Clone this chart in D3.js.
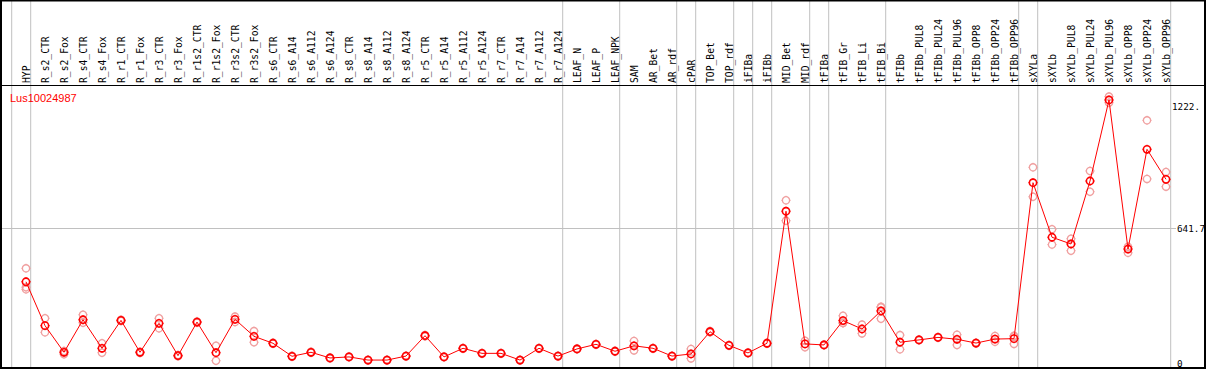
<!DOCTYPE html>
<html>
<head>
<meta charset="utf-8">
<script src="https://cdn.jsdelivr.net/npm/d3@7"></script>
<style>
  html, body { margin: 0; padding: 0; background: #fff; }
  svg { display: block; }
</style>
</head>
<body>
<div id="chart"></div>
<script>
// sample names along the top header
const samples = ["HYP","R_s2_CTR","R_s2_Fox","R_s4_CTR","R_s4_Fox","R_r1_CTR","R_r1_Fox","R_r3_CTR","R_r3_Fox",
  "R_r1s2_CTR","R_r1s2_Fox","R_r3s2_CTR","R_r3s2_Fox","R_s6_CTR","R_s6_A14","R_s6_A112","R_s6_A124",
  "R_s8_CTR","R_s8_A14","R_s8_A112","R_s8_A124","R_r5_CTR","R_r5_A14","R_r5_A112","R_r5_A124",
  "R_r7_CTR","R_r7_A14","R_r7_A112","R_r7_A124","LEAF_N","LEAF_P","LEAF_NPK","SAM","AR_Bet","AR_rdf",
  "cPAR","TOP_Bet","TOP_rdf","iFIBa","iFIBb","MID_Bet","MID_rdf","tFIBa","tFIB_Gr","tFIB_Li","tFIB_Bi",
  "tFIBb","tFIBb_PUL8","tFIBb_PUL24","tFIBb_PUL96","tFIBb_OPP8","tFIBb_OPP24","tFIBb_OPP96",
  "sXYLa","sXYLb","sXYLb_PUL8","sXYLb_PUL24","sXYLb_PUL96","sXYLb_OPP8","sXYLb_OPP24","sXYLb_OPP96"];

// mean expression per sample
const means = [387,178,51,206,70,203,51,189,35,195,49,208,127,94,32,51,24,29,14,14,33,130,29,70,46,46,14,70,33,
  67,89,56,82,70,33,43,149,84,48,94,723,91,86,202,162,248,99,110,122,113,95,114,116,
  859,599,567,867,1253,543,1018,875];

// replicate values per sample (same order as samples)
const replicates = [[451,361,351],[213,146],[57,42],[230,192],[94,49],[206,200],[54,48],[213,165],[38,32],
  [198,192],[82,11],[221,195],[152,99],[96,92],[34,30],[53,49],[26,22],[31,27],[16,12],[16,12],[35,31],
  [133,127],[31,27],[72,68],[48,44],[48,44],[16,12],[72,68],[35,31],[69,65],[91,87],[58,54],[105,60],
  [72,68],[35,31],[67,22],[152,146],[86,82],[50,46],[96,92],[775,678],[106,75],[88,84],[225,190,191],
  [141,183],[268,211,265],[133,65],[112,108],[124,120],[135,86],[97,93],[129,101],[130,91,127],
  [932,792],[637,564],[592,535],[915,816],[1269,1240],[554,525],[1156,877],[910,840]];

// indices after which a grey separator is drawn (-1 = before the first sample)
const groupEnds = [-1,0,28,31,34,35,37,38,39,41,42,45,52,53,60];

// right axis labels
const yTicks = [1222, 641.7, 0];
const yTickLabels = ["1222.", "641.7", "0"];
const geneId = "Lus10024987";

const W = 1209, H = 370;
const headerY = 85, bottomY = 368, rightEdge = 1205;

const svg = d3.select("#chart").append("svg")
  .attr("width", W)
  .attr("height", H);

const x = d3.scalePoint()
  .domain(samples)
  .range([26, 1166]);
const step = x.step();

const y = d3.scaleLinear()
  .domain([0, 641.7])
  .range([363, 228.3]);

// vertical separators between sample groups
svg.append("g").selectAll("line")
  .data(groupEnds)
  .join("line")
  .attr("x1", i => (i < 0 ? x(samples[0]) - step : x(samples[i])) + 4.7)
  .attr("x2", i => (i < 0 ? x(samples[0]) - step : x(samples[i])) + 4.7)
  .attr("y1", 0)
  .attr("y2", bottomY)
  .attr("stroke", "#c0c0c0")
  .attr("stroke-width", 1);

// mid gridline
svg.append("line")
  .attr("x1", 0).attr("x2", 1176)
  .attr("y1", Math.round(y(641.7)) + 0.5).attr("y2", Math.round(y(641.7)) + 0.5)
  .attr("stroke", "#c0c0c0");

// header line
svg.append("line")
  .attr("x1", 0).attr("x2", rightEdge)
  .attr("y1", headerY + 0.5).attr("y2", headerY + 0.5)
  .attr("stroke", "#000");

// sample labels, rotated
svg.append("g").selectAll("text")
  .data(samples)
  .join("text")
  .attr("transform", d => `translate(${x(d) + 3.5},${headerY - 2}) rotate(-90)`)
  .style("font-family", "DejaVu Sans Mono, monospace")
  .style("font-size", "9.7px")
  .text(d => d);

// y axis labels
svg.append("g").selectAll("text")
  .data(yTicks)
  .join("text")
  .attr("x", (d, i) => i === 0 ? 1172 : 1177)
  .attr("y", d => y(d) + 3.5)
  .style("font-family", "DejaVu Sans Mono, monospace")
  .style("font-size", "9.3px")
  .text((d, i) => yTickLabels[i]);

// gene id
svg.append("text")
  .attr("x", 10)
  .attr("y", 102)
  .attr("fill", "#ff0000")
  .style("font-family", "Liberation Sans, Arial, sans-serif")
  .style("font-size", "11px")
  .text(geneId);

// marker: open circle with small ticks
function marker(g, color, sw) {
  g.append("circle").attr("r", 3.6).attr("fill", "none").attr("stroke", color).attr("stroke-width", sw);
  g.append("path").attr("d", "M0,-4.6V-3.6M0,3.6V4.6M-4.6,0H-3.6M3.6,0H4.6")
    .attr("stroke", color).attr("stroke-width", 1);
}

// replicate points
const repData = [];
samples.forEach((s, i) => replicates[i].forEach(v => repData.push({ s, v })));
svg.append("g").selectAll("g")
  .data(repData)
  .join("g")
  .attr("transform", d => `translate(${x(d.s)},${y(d.v)})`)
  .each(function () { marker(d3.select(this), "#f0a0a0", 1.3); });

// mean line
const line = d3.line()
  .x((d, i) => x(samples[i]))
  .y(d => y(d));
svg.append("path")
  .datum(means)
  .attr("d", line)
  .attr("fill", "none")
  .attr("stroke", "#ff0000")
  .attr("stroke-width", 1);

// mean points
svg.append("g").selectAll("g")
  .data(means)
  .join("g")
  .attr("transform", (d, i) => `translate(${x(samples[i])},${y(d)})`)
  .each(function () { marker(d3.select(this), "#ff0000", 1.6); });

// outer frame
svg.append("rect")
  .attr("x", 1).attr("y", 0.5)
  .attr("width", rightEdge - 1).attr("height", bottomY - 0.5)
  .attr("fill", "none")
  .attr("stroke", "#000")
  .attr("stroke-width", 2);
</script>
</body>
</html>
